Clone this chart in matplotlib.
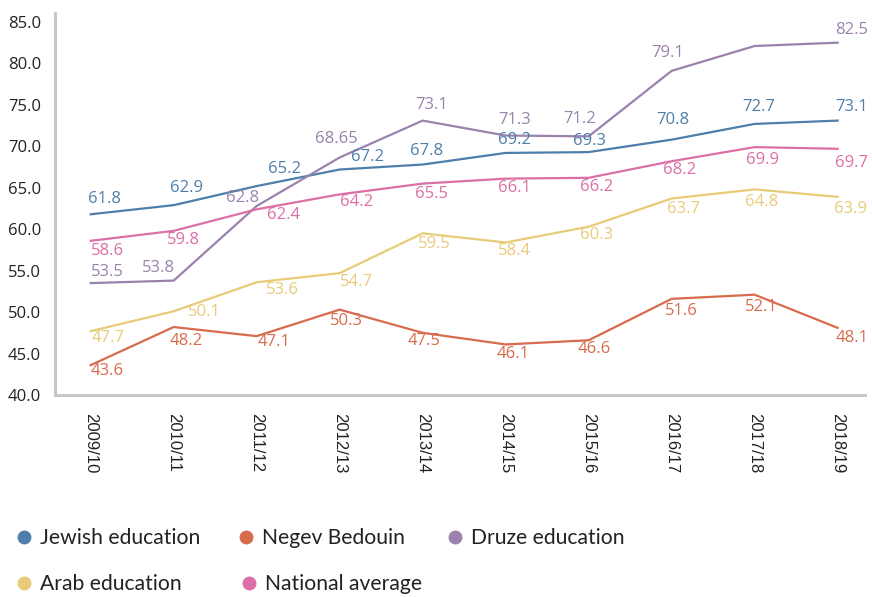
import matplotlib
matplotlib.use("Agg")
import matplotlib.pyplot as plt
from matplotlib.lines import Line2D

years = ['2009/10', '2010/11', '2011/12', '2012/13', '2013/14',
         '2014/15', '2015/16', '2016/17', '2017/18', '2018/19']
jewish = [61.8, 62.9, 65.2, 67.2, 67.8, 69.2, 69.3, 70.8, 72.7, 73.1]
negev = [43.6, 48.2, 47.1, 50.3, 47.5, 46.1, 46.6, 51.6, 52.1, 48.1]
druze = [53.5, 53.8, 62.8, 68.65, 73.1, 71.3, 71.2, 79.1, 82.1, 82.5]
arab = [47.7, 50.1, 53.6, 54.7, 59.5, 58.4, 60.3, 63.7, 64.8, 63.9]
national = [58.6, 59.8, 62.4, 64.2, 65.5, 66.1, 66.2, 68.2, 69.9, 69.7]
yticks = [40, 45, 50, 55, 60, 65, 70, 75, 80, 85]

series = [
    ("Jewish education", jewish, "#4e7fab"),
    ("Negev Bedouin", negev, "#d86b4e"),
    ("Druze education", druze, "#9b82ad"),
    ("Arab education", arab, "#e8cb78"),
    ("National average", national, "#dc6fa5"),
]

# label offsets in pixels (dx, dy with dy downward); None = no label
offsets = {
    "Jewish education": [(14, -15), (13, -17), (28, -17), (28, -13), (4, -14),
                         (9, -13), (1, -11), (1, -20), (4, -17), (14, -14)],
    "Druze education": [(17, -11), (-15, -13), (-14, -8), (-3, -18), (9, -16),
                        (9, -16), (-9, -17), (-4, -18), None, (14, -13)],
    "National average": [(17, 10), (10, 9), (27, 6), (17, 8), (9, 10),
                         (9, 9), (8, 9), (8, 9), (8, 13), (14, 14)],
    "Arab education": [(17, 7), (31, 1), (26, 8), (17, 9), (12, 11),
                       (9, 9), (8, 8), (12, 10), (7, 13), (13, 12)],
    "Negev Bedouin": [(17, 6), (13, 14), (17, 6), (7, 11), (1, 8),
                      (7, 10), (6, 9), (10, 12), (7, 12), (15, 10)],
}

W, H = 872, 597
fig = plt.figure(figsize=(W / 100, H / 100), dpi=100)
ax = fig.add_axes([55 / W, 1 - 395 / H, (865 - 55) / W, (395 - 13) / H])

x = list(range(len(years)))
for name, vals, col in series:
    ax.plot(x, vals, color=col, lw=1.6, solid_joinstyle='round', zorder=2)
    for i, v in enumerate(vals):
        off = offsets[name][i]
        if off is None:
            continue
        ax.annotate(f"{v:g}", (i, v), xytext=(off[0], -off[1]),
                    textcoords='offset pixels', ha='center', va='center',
                    color=col, fontsize=12, family='Open Sans', zorder=3)

ax.set_xlim(-0.43, 9.33)
ax.set_ylim(40, 40 + 382 / 8.29)
ax.set_yticks(yticks)
ax.set_yticklabels([f"{t:.1f}" for t in yticks], family='Open Sans',
                   fontsize=12, color='#222222')
ax.set_xticks(x)
ax.set_xticklabels(years, rotation=270, family='Liberation Sans',
                   fontsize=12, color='#222222', ha='center', va='top')
ax.tick_params(axis='both', length=0)
ax.tick_params(axis='y', pad=10)
ax.tick_params(axis='x', pad=13)
for s in ['top', 'right']:
    ax.spines[s].set_visible(False)
for s in ['left', 'bottom']:
    ax.spines[s].set_color('#c8c8c8')
    ax.spines[s].set_linewidth(2.2)

# legend entries
legend_pos = {
    "Jewish education": (24, 538),
    "Negev Bedouin": (246, 538),
    "Druze education": (455, 538),
    "Arab education": (24, 584),
    "National average": (249, 584),
}
for name, vals, col in series:
    px, py = legend_pos[name]
    h = Line2D([], [], marker='o', ls='none', color=col, markersize=9)
    lg = fig.legend([h], [name], loc='center left',
                    bbox_to_anchor=((px - 7) / W, 1 - py / H),
                    frameon=False, handlelength=0.65, handletextpad=0.42,
                    borderpad=0, borderaxespad=0,
                    prop={'family': 'Lato', 'size': 15.2})
    for t in lg.get_texts():
        t.set_color('#222222')

fig.savefig("out.png", dpi=100)
